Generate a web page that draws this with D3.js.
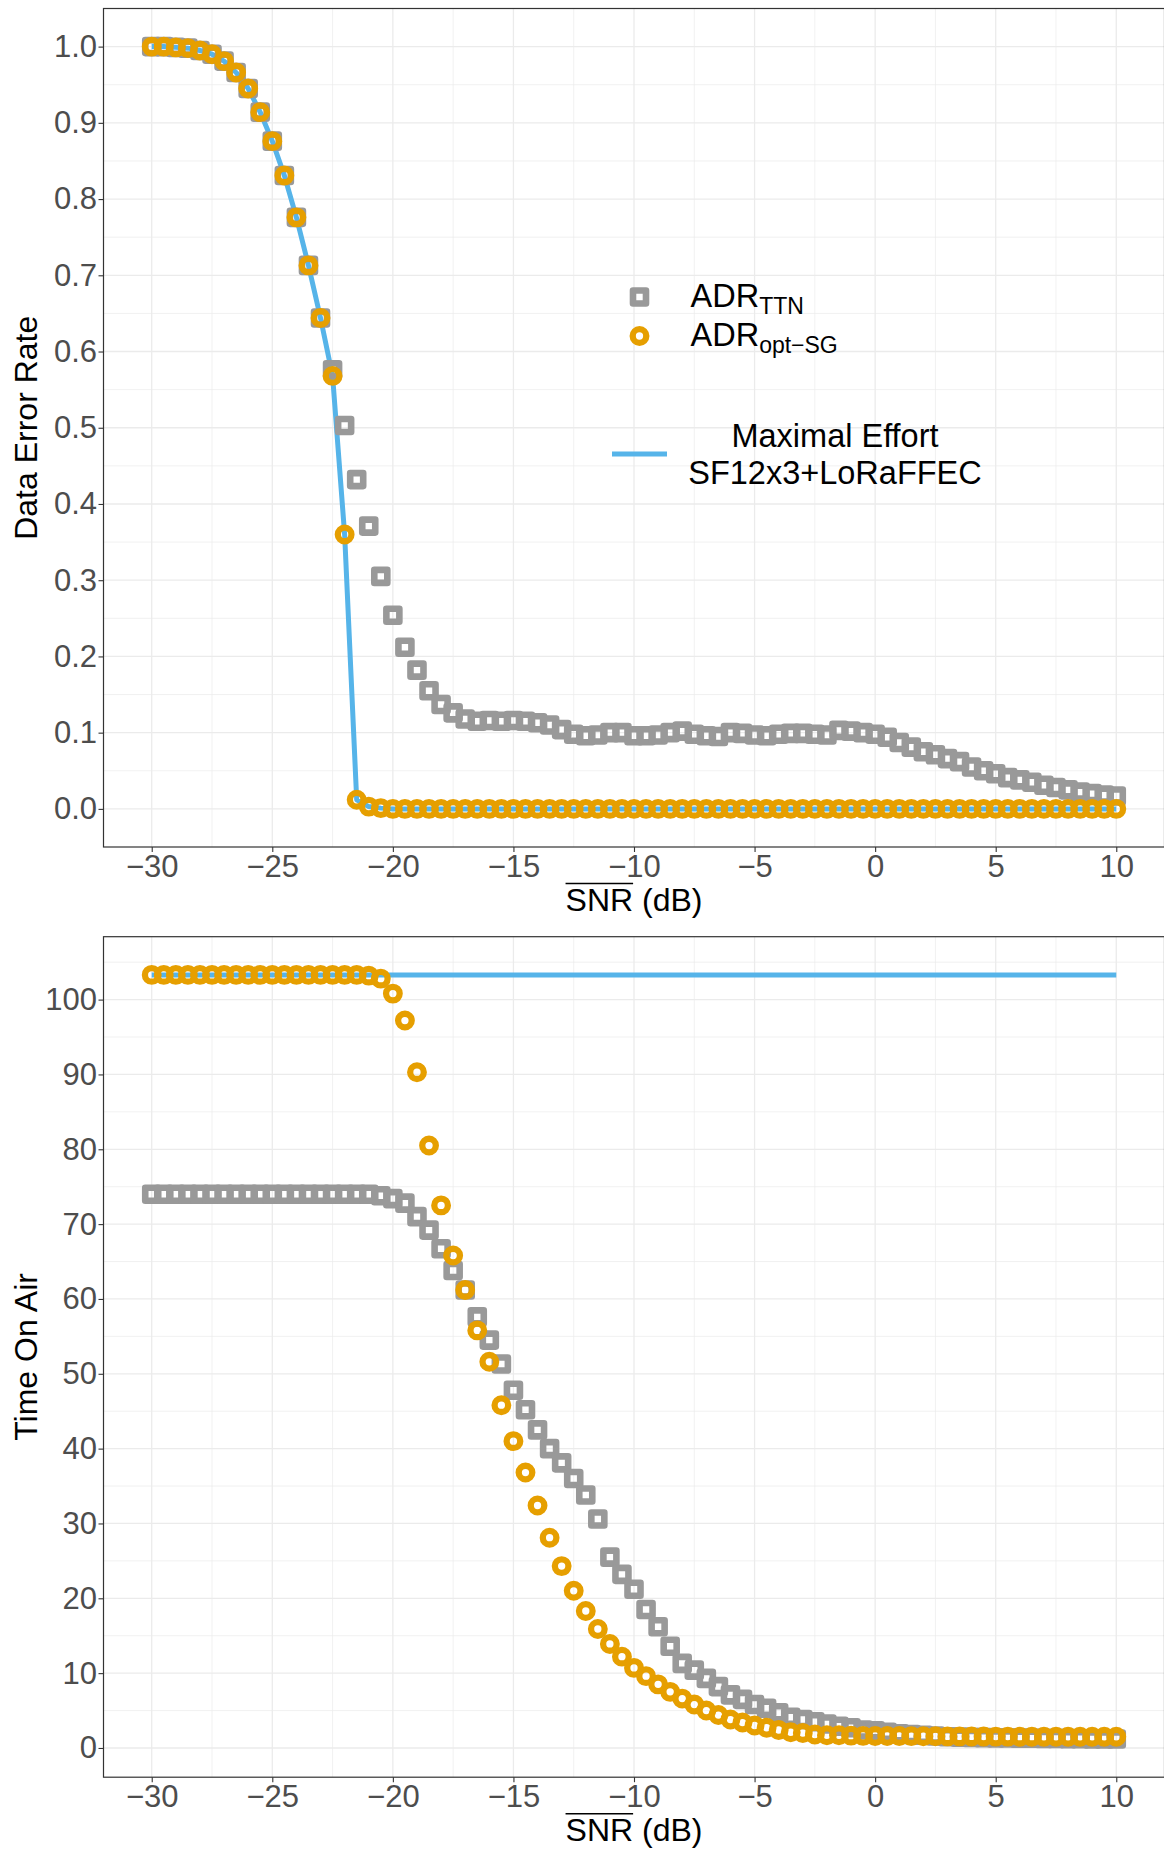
<!DOCTYPE html>
<html>
<head>
<meta charset="utf-8">
<script src="https://cdn.jsdelivr.net/npm/d3@7"></script>
<style>
  html, body { margin: 0; padding: 0; background: #fff; }
  svg { display: block; }
  text { font-family: "Liberation Sans", Arial, Helvetica, sans-serif; }
</style>
</head>
<body>
<svg id="chart" width="1164" height="1850"></svg>
<script>
// ---------------- DATA ----------------
const snr = [-30,-29.5,-29,-28.5,-28,-27.5,-27,-26.5,-26,-25.5,-25,-24.5,-24,-23.5,-23,-22.5,-22,-21.5,-21,-20.5,
  -20,-19.5,-19,-18.5,-18,-17.5,-17,-16.5,-16,-15.5,-15,-14.5,-14,-13.5,-13,-12.5,-12,-11.5,-11,-10.5,
  -10,-9.5,-9,-8.5,-8,-7.5,-7,-6.5,-6,-5.5,-5,-4.5,-4,-3.5,-3,-2.5,-2,-1.5,-1,-0.5,
  0,0.5,1,1.5,2,2.5,3,3.5,4,4.5,5,5.5,6,6.5,7,7.5,8,8.5,9,9.5,10];

// Data Error Rate
const derTTN = [1.000,1.000,0.999,0.998,0.995,0.990,0.981,0.966,0.945,0.914,0.876,0.831,0.776,0.713,0.644,0.576,0.503,0.432,0.371,0.305,
  0.254,0.212,0.182,0.155,0.137,0.126,0.118,0.115,0.116,0.115,0.116,0.115,0.113,0.110,0.104,0.098,0.096,0.097,0.100,0.100,
  0.096,0.096,0.097,0.100,0.102,0.098,0.096,0.095,0.100,0.099,0.097,0.096,0.098,0.099,0.099,0.098,0.097,0.103,0.102,0.100,
  0.098,0.094,0.087,0.081,0.075,0.071,0.066,0.062,0.055,0.050,0.046,0.041,0.038,0.035,0.031,0.028,0.025,0.022,0.020,0.018,0.017];
const derOptSG = [1.000,1.000,0.999,0.998,0.995,0.990,0.981,0.966,0.945,0.914,0.876,0.831,0.776,0.713,0.644,0.568,0.360,0.012,0.003,0.001,
  0,0,0,0,0,0,0,0,0,0,0,0,0,0,0,0,0,0,0,0,
  0,0,0,0,0,0,0,0,0,0,0,0,0,0,0,0,0,0,0,0,
  0,0,0,0,0,0,0,0,0,0,0,0,0,0,0,0,0,0,0,0,0];
const derMax = [1.000,1.000,0.999,0.998,0.995,0.990,0.981,0.966,0.945,0.914,0.876,0.831,0.776,0.713,0.644,0.568,0.360,0.012,0.003,0.001,
  0,0,0,0,0,0,0,0,0,0,0,0,0,0,0,0,0,0,0,0,
  0,0,0,0,0,0,0,0,0,0,0,0,0,0,0,0,0,0,0,0,
  0,0,0,0,0,0,0,0,0,0,0,0,0,0,0,0,0,0,0,0,0];

// Time On Air
const toaTTN = [74.0,74.0,74.0,74.0,74.0,74.0,74.0,74.0,74.0,74.0,74.0,74.0,74.0,74.0,74.0,74.0,74.0,74.0,74.0,73.8,
  73.4,72.8,71.0,69.2,66.7,63.8,61.2,57.6,54.5,51.3,47.8,45.2,42.5,40.0,38.1,36.0,33.8,30.6,25.5,23.2,
  21.2,18.5,16.2,13.6,11.3,10.4,9.3,8.2,7.1,6.5,5.8,5.3,4.7,4.1,3.8,3.5,3.2,2.9,2.7,2.4,
  2.3,2.1,1.9,1.8,1.7,1.6,1.5,1.45,1.4,1.38,1.35,1.33,1.31,1.29,1.27,1.26,1.25,1.24,1.22,1.21,1.2];
const toaOptSG = [103.3,103.3,103.3,103.3,103.3,103.3,103.3,103.3,103.3,103.3,103.3,103.3,103.3,103.3,103.3,103.3,103.3,103.3,103.2,102.8,
  100.8,97.2,90.3,80.5,72.5,65.8,61.2,55.8,51.6,45.8,41.0,36.8,32.4,28.1,24.3,21.0,18.3,15.9,13.9,12.2,
  10.7,9.6,8.5,7.5,6.6,5.8,5.0,4.4,3.8,3.4,3.0,2.7,2.4,2.1,2.0,1.8,1.7,1.7,1.65,1.62,
  1.6,1.6,1.6,1.58,1.57,1.56,1.55,1.55,1.54,1.53,1.52,1.52,1.51,1.51,1.5,1.5,1.5,1.5,1.5,1.5,1.5];
const toaMax = [103.3,103.3,103.3,103.3,103.3,103.3,103.3,103.3,103.3,103.3,103.3,103.3,103.3,103.3,103.3,103.3,103.3,103.3,103.3,103.3,
  103.3,103.3,103.3,103.3,103.3,103.3,103.3,103.3,103.3,103.3,103.3,103.3,103.3,103.3,103.3,103.3,103.3,103.3,103.3,103.3,
  103.3,103.3,103.3,103.3,103.3,103.3,103.3,103.3,103.3,103.3,103.3,103.3,103.3,103.3,103.3,103.3,103.3,103.3,103.3,103.3,
  103.3,103.3,103.3,103.3,103.3,103.3,103.3,103.3,103.3,103.3,103.3,103.3,103.3,103.3,103.3,103.3,103.3,103.3,103.3,103.3,103.3];

const xTicks = [-30,-25,-20,-15,-10,-5,0,5,10];
const derTicks = [0,0.1,0.2,0.3,0.4,0.5,0.6,0.7,0.8,0.9,1.0];
const toaTicks = [0,10,20,30,40,50,60,70,80,90,100];

const legendPoints = [
  {key: "ttn", main: "ADR", sub: "TTN"},
  {key: "opt", main: "ADR", sub: "opt\u2212SG"}
];
const legendLine = ["Maximal Effort", "SF12x3+LoRaFFEC"];

// ---------------- STYLE ----------------
const COL = {ttn: "#999999", opt: "#E69F00", max: "#56B4E9"};
const FONT_TICK = 31, FONT_TITLE = 32, FONT_LEG = 32.5, FONT_SUB = 23;
const panelLeft = 103.5, panelRight = 1164.5;

const svg = d3.select("#chart");

function expand(ext, f = 0.05) {
  const r = ext[1] - ext[0];
  return [ext[0] - r * f, ext[1] + r * f];
}

const x = d3.scaleLinear().domain(expand(d3.extent(snr))).range([panelLeft, panelRight]);

function drawSquare(g, cx, cy) {
  const s = 13;
  g.append("rect").attr("x", cx - s / 2).attr("y", cy - s / 2)
    .attr("width", s).attr("height", s)
    .attr("fill", "none").attr("stroke", COL.ttn).attr("stroke-width", 6.6)
    .attr("stroke-linejoin", "round");
}
function drawCircle(g, cx, cy) {
  g.append("circle").attr("cx", cx).attr("cy", cy).attr("r", 6.8)
    .attr("fill", "none").attr("stroke", COL.opt).attr("stroke-width", 6.3);
}

function panel(cfg) {
  const y = d3.scaleLinear()
    .domain(expand(d3.extent([...cfg.a, ...cfg.b, ...cfg.c])))
    .range([cfg.bottom, cfg.top]);
  const g = svg.append("g");

  // grid
  const xMinor = xTicks.slice(0, -1).map((t, i) => (t + xTicks[i + 1]) / 2);
  const yStep = cfg.ticks[1] - cfg.ticks[0];
  const yMinor = cfg.ticks.map(t => t + yStep / 2).filter(v => v < y.domain()[1]);
  const grid = g.append("g");
  grid.selectAll(".xm").data(xMinor).join("line")
    .attr("x1", d => x(d)).attr("x2", d => x(d)).attr("y1", cfg.top).attr("y2", cfg.bottom)
    .attr("stroke", "#ebebeb").attr("stroke-width", 0.7);
  grid.selectAll(".ym").data(yMinor).join("line")
    .attr("x1", panelLeft).attr("x2", panelRight).attr("y1", d => y(d)).attr("y2", d => y(d))
    .attr("stroke", "#ebebeb").attr("stroke-width", 0.7);
  grid.selectAll(".xM").data(xTicks).join("line")
    .attr("x1", d => x(d)).attr("x2", d => x(d)).attr("y1", cfg.top).attr("y2", cfg.bottom)
    .attr("stroke", "#ebebeb").attr("stroke-width", 1.3);
  grid.selectAll(".yM").data(cfg.ticks).join("line")
    .attr("x1", panelLeft).attr("x2", panelRight).attr("y1", d => y(d)).attr("y2", d => y(d))
    .attr("stroke", "#ebebeb").attr("stroke-width", 1.3);

  // line
  g.append("path").datum(snr.map((s, i) => [s, cfg.c[i]]))
    .attr("fill", "none").attr("stroke", COL.max).attr("stroke-width", 5)
    .attr("stroke-linejoin", "round")
    .attr("d", d3.line().x(d => x(d[0])).y(d => y(d[1])));

  // points
  const pts = g.append("g");
  snr.forEach((s, i) => drawSquare(pts, x(s), y(cfg.a[i])));
  snr.forEach((s, i) => drawCircle(pts, x(s), y(cfg.b[i])));

  // border
  g.append("rect").attr("x", panelLeft).attr("y", cfg.top)
    .attr("width", panelRight - panelLeft).attr("height", cfg.bottom - cfg.top)
    .attr("fill", "none").attr("stroke", "#333333").attr("stroke-width", 1.2);

  // axes
  const ax = g.append("g").attr("transform", `translate(0,${cfg.bottom})`)
    .call(d3.axisBottom(x).tickValues(xTicks).tickFormat(d3.format("d")).tickSize(5).tickPadding(3));
  ax.select(".domain").remove();
  ax.selectAll(".tick line").attr("stroke", "#333333").attr("stroke-width", 1.1);
  ax.selectAll(".tick text").attr("fill", "#4d4d4d").attr("font-size", FONT_TICK)
    .attr("font-family", "Liberation Sans, Arial, sans-serif");

  const ay = g.append("g").attr("transform", `translate(${panelLeft},0)`)
    .call(d3.axisLeft(y).tickValues(cfg.ticks).tickFormat(cfg.fmt).tickSize(5).tickPadding(1.5));
  ay.select(".domain").remove();
  ay.selectAll(".tick line").attr("stroke", "#333333").attr("stroke-width", 1.1);
  ay.selectAll(".tick text").attr("fill", "#4d4d4d").attr("font-size", FONT_TICK)
    .attr("font-family", "Liberation Sans, Arial, sans-serif");

  // x title with overline on SNR
  const cx = (panelLeft + panelRight) / 2;
  const xt = g.append("text").attr("x", cx).attr("y", cfg.bottom + 64)
    .attr("text-anchor", "middle").attr("font-size", FONT_TITLE).attr("fill", "#000");
  xt.append("tspan").text("SNR");
  xt.append("tspan").text(" (dB)");
  const bb = xt.node().getBBox();
  const snrW = xt.node().getSubStringLength(0, 3);
  g.append("line").attr("x1", bb.x).attr("x2", bb.x + snrW)
    .attr("y1", cfg.bottom + 36.5).attr("y2", cfg.bottom + 36.5)
    .attr("stroke", "#000").attr("stroke-width", 1.4);

  // y title
  g.append("text")
    .attr("transform", `translate(37,${(cfg.top + cfg.bottom) / 2}) rotate(-90)`)
    .attr("text-anchor", "middle").attr("font-size", FONT_TITLE).attr("fill", "#000")
    .text(cfg.ytitle);

  return {g, y};
}

panel({top: 8.5, bottom: 847, a: derTTN, b: derOptSG, c: derMax,
  ticks: derTicks, fmt: d3.format(".1f"), ytitle: "Data Error Rate"});
panel({top: 936.7, bottom: 1777.2, a: toaTTN, b: toaOptSG, c: toaMax,
  ticks: toaTicks, fmt: d3.format("d"), ytitle: "Time On Air"});

// ---------------- LEGEND (top panel) ----------------
const lg = svg.append("g");
const keyX = 639.5;
const keyYs = [297, 336];
legendPoints.forEach((d, i) => {
  if (d.key === "ttn") drawSquare(lg, keyX, keyYs[i]); else drawCircle(lg, keyX, keyYs[i]);
  const t = lg.append("text").attr("x", 690.5).attr("y", keyYs[i] + 10)
    .attr("font-size", FONT_LEG).attr("fill", "#000");
  t.append("tspan").text(d.main);
  t.append("tspan").attr("font-size", FONT_SUB).attr("dy", 7).text(d.sub);
});
lg.append("line").attr("x1", 612).attr("x2", 667).attr("y1", 454).attr("y2", 454)
  .attr("stroke", COL.max).attr("stroke-width", 5);
legendLine.forEach((s, i) => {
  lg.append("text").attr("x", 835).attr("y", 446.5 + i * 37)
    .attr("text-anchor", "middle").attr("font-size", FONT_LEG).attr("fill", "#000").text(s);
});
</script>
</body>
</html>
